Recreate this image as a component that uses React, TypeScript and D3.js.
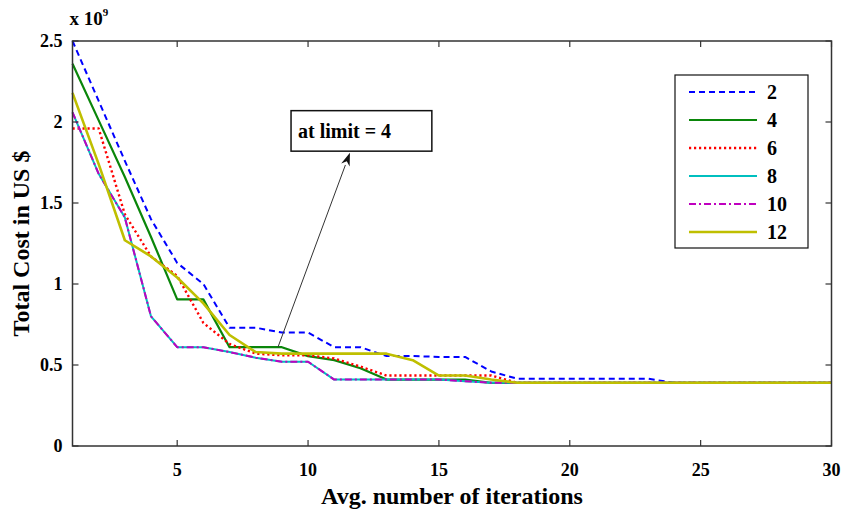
import React from "react";
import * as d3 from "d3";

const iterations = d3.range(1, 31);
const s2 = [2.5, 2.13, 1.76, 1.4, 1.13, 1.0, 0.73, 0.73, 0.7, 0.7, 0.61, 0.61, 0.555, 0.555, 0.55, 0.55, 0.46, 0.415, 0.415, 0.415, 0.415, 0.415, 0.415, 0.39, 0.39, 0.39, 0.39, 0.39, 0.39, 0.39];
const s4 = [2.36, 2.01, 1.66, 1.29, 0.905, 0.905, 0.61, 0.61, 0.61, 0.555, 0.53, 0.48, 0.41, 0.41, 0.41, 0.41, 0.39, 0.39, 0.39, 0.39, 0.39, 0.39, 0.39, 0.39, 0.39, 0.39, 0.39, 0.39, 0.39, 0.39];
const s6 = [1.96, 1.96, 1.43, 1.17, 1.05, 0.76, 0.63, 0.57, 0.56, 0.56, 0.54, 0.49, 0.435, 0.435, 0.435, 0.435, 0.435, 0.39, 0.39, 0.39, 0.39, 0.39, 0.39, 0.39, 0.39, 0.39, 0.39, 0.39, 0.39, 0.39];
const s8 = [2.06, 1.68, 1.41, 0.8, 0.61, 0.61, 0.58, 0.545, 0.52, 0.52, 0.41, 0.41, 0.41, 0.41, 0.41, 0.4, 0.39, 0.39, 0.39, 0.39, 0.39, 0.39, 0.39, 0.39, 0.39, 0.39, 0.39, 0.39, 0.39, 0.39];
const s10 = [2.06, 1.68, 1.41, 0.8, 0.61, 0.61, 0.58, 0.545, 0.52, 0.52, 0.41, 0.41, 0.41, 0.41, 0.41, 0.4, 0.39, 0.39, 0.39, 0.39, 0.39, 0.39, 0.39, 0.39, 0.39, 0.39, 0.39, 0.39, 0.39, 0.39];
const s12 = [2.18, 1.74, 1.27, 1.17, 1.04, 0.88, 0.685, 0.58, 0.57, 0.57, 0.57, 0.57, 0.57, 0.53, 0.435, 0.435, 0.41, 0.39, 0.39, 0.39, 0.39, 0.39, 0.39, 0.39, 0.39, 0.39, 0.39, 0.39, 0.39, 0.39];

const seriesNames = ["2", "4", "6", "8", "10", "12"];
const seriesValues = [s2, s4, s6, s8, s10, s12];
const seriesColors = ["#0000ff", "#0a860a", "#ff0000", "#00bfbf", "#bf00bf", "#bfbf00"];
const seriesDash = ["6,4", "none", "2.2,2.8", "none", "7,3,2,3", "none"];
const seriesWidth = [2, 2.2, 2.4, 2, 2, 2.6];

const xTicks = [5, 10, 15, 20, 25, 30];
const yTicks = [0, 0.5, 1, 1.5, 2, 2.5];
const yTickLabels = ["0", "0.5", "1", "1.5", "2", "2.5"];

const annotText = "at limit = 4";
const annotBox = { x0: 9.35, x1: 14.73, y0: 2.07, y1: 1.82 };
const annotFrom = { x: 8.85, y: 0.61 };
const annotTo = { x: 11.6, y: 1.81 };

const W = 842, H = 511;
const left = 72.5, right = 831.5, top = 41, bottom = 446;
const font = "'Liberation Serif', 'Times New Roman', serif";

export default function App() {
  const x = d3.scaleLinear().domain([1, 30]).range([left, right]);
  const y = d3.scaleLinear().domain([0, 2.5]).range([bottom, top]);
  const line = d3.line<number>().x((_, i) => x(iterations[i])).y((d) => y(d));
  const tl = 6;

  const ax = x(annotFrom.x), ay = y(annotFrom.y);
  const bx = x(annotTo.x), by = y(annotTo.y);
  const ang = Math.atan2(by - ay, bx - ax);
  const hl = 13, hw = 4.5;
  const hx = bx - hl * Math.cos(ang), hy = by - hl * Math.sin(ang);
  const px = -Math.sin(ang), py = Math.cos(ang);
  const head = `M${bx},${by}L${hx + hw * px},${hy + hw * py}L${hx + 4 * Math.cos(ang)},${hy + 4 * Math.sin(ang)}L${hx - hw * px},${hy - hw * py}Z`;

  const legX = 675, legY = 75, legW = 133, rowH = 28;

  return (
    <svg width={W} height={H} style={{ display: "block", position: "absolute", left: 0, top: 0, background: "#fff" }}>
      <rect x={0} y={0} width={W} height={H} fill="#fff" />
      {seriesValues.map((vals, i) => (
        <path key={i} d={line(vals) || ""} fill="none" stroke={seriesColors[i]} strokeWidth={seriesWidth[i]}
          strokeDasharray={seriesDash[i]} strokeLinejoin="round" />
      ))}
      <rect x={left} y={top} width={right - left} height={bottom - top} fill="none" stroke="#333" strokeWidth={1.5} />
      {xTicks.map((t) => (
        <g key={"x" + t}>
          <line x1={x(t)} x2={x(t)} y1={bottom} y2={bottom - tl} stroke="#333" strokeWidth={1.2} />
          <line x1={x(t)} x2={x(t)} y1={top} y2={top + tl} stroke="#333" strokeWidth={1.2} />
          <text x={x(t)} y={bottom + 30} textAnchor="middle" fontFamily={font} fontWeight="bold" fontSize={18}>{t}</text>
        </g>
      ))}
      {yTicks.map((t, i) => (
        <g key={"y" + t}>
          <line x1={left} x2={left + tl} y1={y(t)} y2={y(t)} stroke="#333" strokeWidth={1.2} />
          <line x1={right} x2={right - tl} y1={y(t)} y2={y(t)} stroke="#333" strokeWidth={1.2} />
          <text x={left - 10} y={y(t) + 6} textAnchor="end" fontFamily={font} fontWeight="bold" fontSize={18}>{yTickLabels[i]}</text>
        </g>
      ))}
      <text x={left - 3} y={25} fontFamily={font} fontWeight="bold" fontSize={19}>x 10<tspan dy={-9} fontSize={11}>9</tspan></text>
      <text x={(left + right) / 2} y={504} textAnchor="middle" fontFamily={font} fontWeight="bold" fontSize={24}>Avg. number of iterations</text>
      <text transform={`translate(29,${(top + bottom) / 2}) rotate(-90)`} textAnchor="middle" fontFamily={font} fontWeight="bold" fontSize={24}>Total Cost in US $</text>

      <line x1={ax} y1={ay} x2={hx} y2={hy} stroke="#333" strokeWidth={1} />
      <path d={head} fill="#111" />
      <rect x={x(annotBox.x0)} y={y(annotBox.y0)} width={x(annotBox.x1) - x(annotBox.x0)} height={y(annotBox.y1) - y(annotBox.y0)} fill="#fff" stroke="#111" strokeWidth={1.5} />
      <text x={x(annotBox.x0) + 7} y={(y(annotBox.y0) + y(annotBox.y1)) / 2 + 7} fontFamily={font} fontWeight="bold" fontSize={20}>{annotText}</text>

      <rect x={legX} y={legY} width={legW} height={rowH * 6 + 5} fill="#fff" stroke="#111" strokeWidth={1.2} />
      {seriesNames.map((n, i) => {
        const ry = legY + 17 + i * rowH;
        return (
          <g key={"l" + n}>
            <line x1={legX + 14} x2={legX + 82} y1={ry} y2={ry} stroke={seriesColors[i]} strokeWidth={seriesWidth[i]} strokeDasharray={seriesDash[i]} />
            <text x={legX + 92} y={ry + 7} fontFamily={font} fontWeight="bold" fontSize={20}>{n}</text>
          </g>
        );
      })}
    </svg>
  );
}
